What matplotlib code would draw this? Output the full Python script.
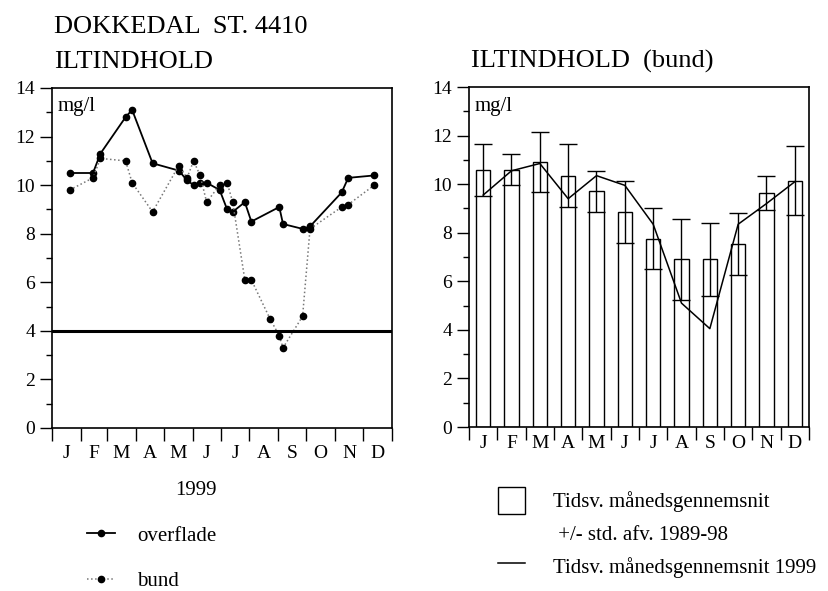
import numpy as np
import matplotlib.pyplot as plt
from matplotlib.lines import Line2D

plt.rcParams['font.family'] = ['Liberation Serif', 'DejaVu Serif']

# --- data ---
months = ['J', 'F', 'M', 'A', 'M', 'J', 'J', 'A', 'S', 'O', 'N', 'D']
month_days = [31, 28, 31, 30, 31, 30, 31, 31, 30, 31, 30, 31]

# 1999 samples (day of year, mg/l)
overflade_day = [19, 44, 52, 79, 86, 108, 136, 145, 152, 159, 166, 180,
                 188, 194, 207, 214, 244, 248, 269, 277, 311, 318, 346]
overflade = [10.5, 10.5, 11.3, 12.8, 13.1, 10.9, 10.6, 10.2, 10.0, 10.1, 10.1, 9.8,
             9.0, 8.9, 9.3, 8.5, 9.1, 8.4, 8.2, 8.3, 9.7, 10.3, 10.4]
bund_day = [19, 44, 52, 79, 86, 108, 136, 145, 152, 159, 166, 180,
            188, 194, 207, 214, 234, 244, 248, 269, 277, 311, 318, 346]
bund = [9.8, 10.3, 11.1, 11.0, 10.1, 8.9, 10.8, 10.3, 11.0, 10.4, 9.3, 10.0,
        10.1, 9.3, 6.1, 6.1, 4.5, 3.8, 3.3, 4.6, 8.2, 9.1, 9.2, 10.0]
limit = 4.0

# time-weighted monthly means, bottom water
mean_8998 = [10.6, 10.6, 10.9, 10.35, 9.7, 8.85, 7.75, 6.9, 6.9, 7.55, 9.65, 10.15]
std_8998 = [1.07, 0.63, 1.23, 1.3, 0.86, 1.26, 1.26, 1.65, 1.5, 1.28, 0.7, 1.44]
mean_1999 = [9.55, 10.55, 10.85, 9.4, 10.35, 9.95, 8.35, 5.1, 4.05, 8.35, 9.2, 10.1]

W, H = 829, 591
fig = plt.figure(figsize=(W / 100, H / 100), dpi=100)

def fig_box(x0, y0, x1, y1):
    return [x0 / W, 1 - y1 / H, (x1 - x0) / W, (y1 - y0) / H]

tick_fs = 14
leg_fs = 15

def style_axes(ax, xpad):
    ax.set_ylim(0, 14)
    ax.set_yticks(np.arange(0, 15, 2))
    ax.set_yticks(np.arange(1, 14, 2), minor=True)
    ax.tick_params(axis='y', which='major', direction='out', length=9, width=1,
                   pad=3, labelsize=tick_fs)
    ax.tick_params(axis='y', which='minor', direction='out', length=4.5, width=1)
    ax.tick_params(axis='x', which='major', direction='out', length=9, width=1)
    ax.tick_params(axis='x', which='minor', length=0, pad=xpad, labelsize=tick_fs)
    for s in ax.spines.values():
        s.set_linewidth(1.2)

# ---------------- left panel ----------------
ax1 = fig.add_axes(fig_box(52, 88, 392, 428))
ax1.plot(overflade_day, overflade, color='black', lw=1.3, marker='o', ms=4.5,
         label='overflade')
ax1.plot(bund_day, bund, color='#777777', lw=1.1, ls=':', marker='o', ms=4.5,
         mfc='black', mec='black', label='bund')
ax1.axhline(limit, color='black', lw=2.2)

starts = np.concatenate([[0], np.cumsum(month_days)])
ax1.set_xlim(0, 365)
ax1.set_xticks(starts)
ax1.set_xticklabels([])
ax1.set_xticks((starts[:-1] + starts[1:]) / 2, minor=True)
ax1.set_xticklabels(months, minor=True)
style_axes(ax1, 12)
ax1.text(0.015, 0.975, 'mg/l', transform=ax1.transAxes, va='top', ha='left',
         fontsize=leg_fs)

# ---------------- right panel ----------------
ax2 = fig.add_axes(fig_box(469, 87, 809, 427))
xm = np.arange(12) + 0.5
bars = ax2.bar(xm, mean_8998, width=0.5, facecolor='white', edgecolor='black',
               lw=1.0, zorder=2)
ax2.errorbar(xm, mean_8998, yerr=std_8998, fmt='none', ecolor='black',
             elinewidth=1.0, capsize=6.5, capthick=1.0, zorder=3)
line99, = ax2.plot(xm, mean_1999, color='black', lw=1.1, zorder=4)
ax2.set_xlim(0, 12)
ax2.set_xticks(np.arange(13))
ax2.set_xticklabels([])
ax2.set_xticks(xm, minor=True)
ax2.set_xticklabels(months, minor=True)
style_axes(ax2, 6)
ax2.text(0.015, 0.97, 'mg/l', transform=ax2.transAxes, va='top', ha='left',
         fontsize=leg_fs)

# ---------------- titles ----------------
tfs = 19
fig.text(54 / W, 1 - 33 / H, 'DOKKEDAL  ST. 4410', fontsize=tfs, va='baseline')
fig.text(54 / W, 1 - 68 / H, 'ILTINDHOLD', fontsize=tfs, va='baseline')
fig.text(471 / W, 1 - 68 / H, 'ILTINDHOLD  (bund)', fontsize=tfs, va='baseline')

# ---------------- legends ----------------
h1, l1 = ax1.get_legend_handles_labels()
fig.legend(h1, l1, title='1999', title_fontsize=leg_fs, fontsize=leg_fs,
           frameon=False, alignment='right', loc='upper left',
           bbox_to_anchor=(87 / W, 1 - 481 / H), numpoints=1,
           handlelength=1.35, labelspacing=1.25, handletextpad=1.05,
           borderaxespad=0, borderpad=0)

blank = Line2D([], [], linestyle='none')
fig.legend([bars, blank, line99],
           ['Tidsv. månedsgennemsnit', ' +/- std. afv. 1989-98',
            'Tidsv. månedsgennemsnit 1999'],
           fontsize=leg_fs, frameon=False, loc='upper left',
           bbox_to_anchor=(498 / W, 1 - 487 / H), handlelength=1.3,
           handleheight=1.6, labelspacing=0.3, handletextpad=1.35,
           borderaxespad=0, borderpad=0)

fig.savefig('out.png', dpi=100)
